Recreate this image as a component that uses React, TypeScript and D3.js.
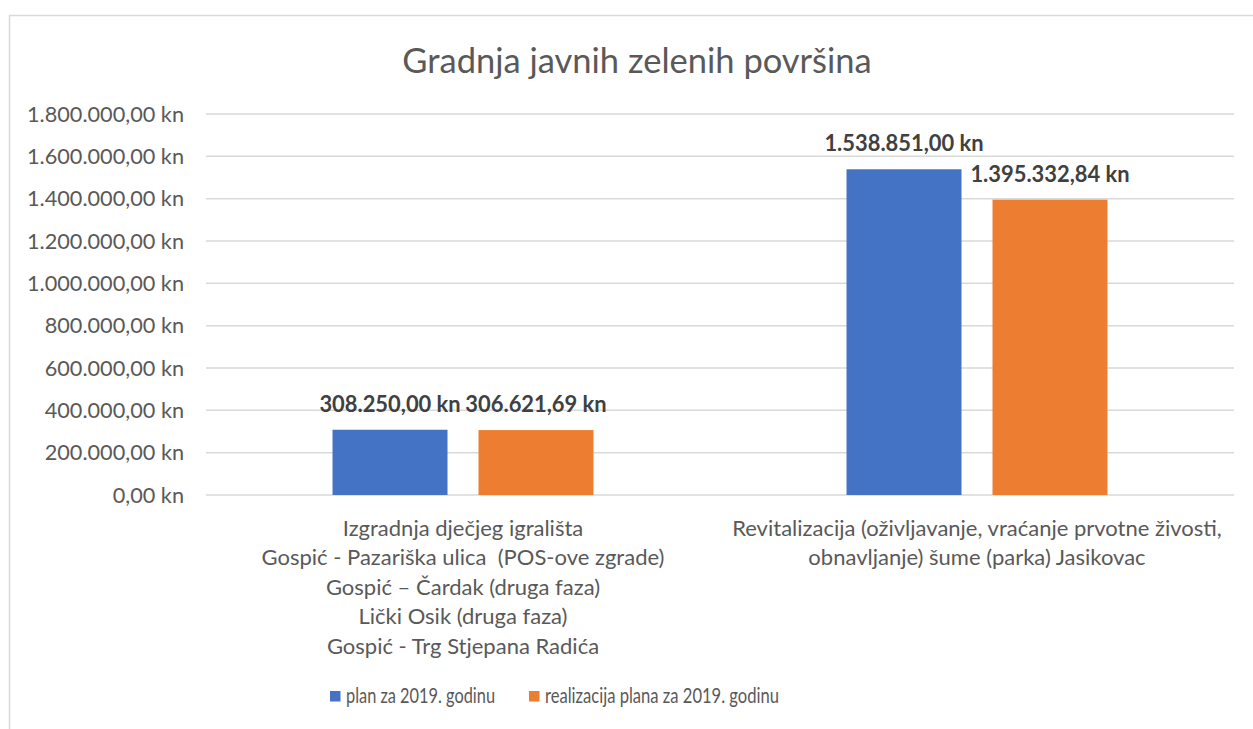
import React from "react";
import * as d3 from "d3";

const title = "Gradnja javnih zelenih površina";
const categories = [
  [
    "Izgradnja dječjeg igrališta",
    "Gospić - Pazariška ulica  (POS-ove zgrade)",
    "Gospić – Čardak (druga faza)",
    "Lički Osik (druga faza)",
    "Gospić - Trg Stjepana Radića",
  ],
  [
    "Revitalizacija (oživljavanje, vraćanje prvotne živosti,",
    "obnavljanje) šume (parka) Jasikovac",
  ],
];
const seriesNames = ["plan za 2019. godinu", "realizacija plana za 2019. godinu"];
const planValues = [308250.0, 1538851.0];
const realValues = [306621.69, 1395332.84];
const yTicks = [0, 200000, 400000, 600000, 800000, 1000000, 1200000, 1400000, 1600000, 1800000];
const colors = ["#4472C4", "#ED7D31"];

const W = 1253;
const H = 729;
const FONT = "Lato, 'Open Sans', sans-serif";
const TEXT = "#595959";

const locale = d3.formatLocale({
  decimal: ",",
  thousands: ".",
  grouping: [3],
  currency: ["", " kn"],
});
const fmt = (v: number) => locale.format(",.2f")(v) + " kn";

export default function App() {
  const plot = { left: 206, right: 1234, top: 114, bottom: 495 };
  const x0 = d3
    .scaleBand<number>()
    .domain(categories.map((_, i) => i))
    .range([plot.left, plot.right])
    .paddingInner(0)
    .paddingOuter(0);
  const y = d3.scaleLinear().domain([0, 1800000]).range([plot.bottom, plot.top]);
  const band = x0.bandwidth();
  const barW = band * 0.2237;
  const gap = band * 0.0603;
  const series = [planValues, realValues];
  const legendX = [330, 529];
  const legendW = [149, 234];

  return (
    <svg
      width={W}
      height={H}
      style={{ position: "absolute", left: 0, top: 0, background: "#fff" }}
      fontFamily={FONT}
    >
      <rect x={9.5} y={15.5} width={1400} height={900} fill="#fff" stroke="#d9d9d9" strokeWidth={1.5} />
      <text x={637} y={73} textAnchor="middle" fontSize={34.5} fill={TEXT}>
        {title}
      </text>
      {yTicks.map((t) => (
        <g key={t}>
          <line x1={plot.left} x2={plot.right} y1={y(t)} y2={y(t)} stroke="#d9d9d9" strokeWidth={1.5} />
          <text x={184} y={y(t)} dy="0.35em" textAnchor="end" fontSize={21.7} fill={TEXT}>
            {fmt(t)}
          </text>
        </g>
      ))}
      {categories.map((cat, ci) => {
        const cx = (x0(ci) as number) + band / 2;
        return (
          <g key={ci}>
            {series.map((vals, si) => {
              const bx = cx - gap / 2 - barW + si * (barW + gap);
              const v = vals[ci];
              return (
                <g key={si}>
                  <rect x={bx} y={y(v)} width={barW} height={y(0) - y(v)} fill={colors[si]} />
                  <text
                    x={bx + barW / 2}
                    y={y(v) - 18}
                    textAnchor="middle"
                    fontSize={21.9}
                    fontWeight="bold"
                    fill="#404040"
                  >
                    {fmt(v)}
                  </text>
                </g>
              );
            })}
            {cat.map((line, li) => (
              <text
                key={li}
                x={cx}
                y={528 + li * 29.5}
                dy="0.35em"
                textAnchor="middle"
                fontSize={22}
                fill={TEXT}
                style={{ whiteSpace: "pre" }}
              >
                {line}
              </text>
            ))}
          </g>
        );
      })}
      {seriesNames.map((name, i) => {
        const lx = legendX[i];
        return (
          <g key={name}>
            <rect x={lx} y={691} width={10.5} height={10.5} fill={colors[i]} />
            <text
              x={lx + 16}
              y={696}
              dy="0.35em"
              fontSize={21}
              fill={TEXT}
              textLength={legendW[i]}
              lengthAdjust="spacingAndGlyphs"
            >
              {name}
            </text>
          </g>
        );
      })}
    </svg>
  );
}
